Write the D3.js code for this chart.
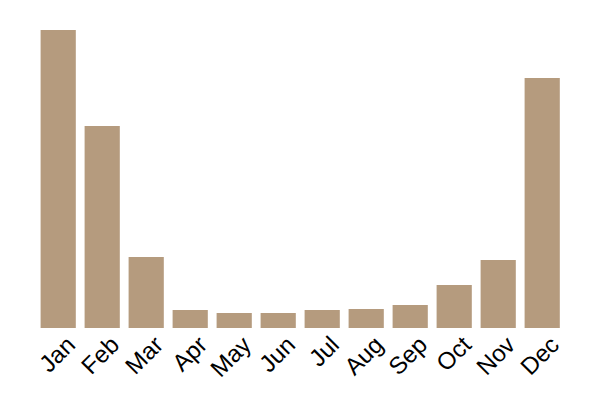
<!DOCTYPE html>
<html><head><meta charset="utf-8">
<script src="https://cdn.jsdelivr.net/npm/d3@7"></script>
<style>body{margin:0;background:#fff}</style>
</head><body>
<svg id="chart" width="600" height="400"></svg>
<script>
const months = ["Jan","Feb","Mar","Apr","May","Jun","Jul","Aug","Sep","Oct","Nov","Dec"];
const values = [298, 202, 71, 18, 15, 15, 18, 19, 23, 43, 68, 250];

const svg = d3.select("#chart");
const margin = {top: 30, bottom: 72};
const height = 400;
const x = d3.scaleBand().domain(months).range([36.2, 564.2]).paddingInner(0.2).paddingOuter(0.1);
const y = d3.scaleLinear().domain([0, d3.max(values)]).range([height - margin.bottom, margin.top]);

svg.append("g").selectAll("rect").data(values).join("rect")
  .attr("x", (d, i) => x(months[i]))
  .attr("y", d => y(d))
  .attr("width", x.bandwidth())
  .attr("height", d => y(0) - y(d))
  .attr("fill", "#b59b7e");

const ax = svg.append("g").attr("transform", `translate(0,${y(0)})`)
  .call(d3.axisBottom(x).tickSize(6));
ax.select(".domain").remove();
ax.selectAll(".tick line").remove();
ax.selectAll("text")
  .style("font-family", "Liberation Sans, Arial, sans-serif")
  .style("font-size", "24px")
  .attr("fill", "#000")
  .attr("text-anchor", "end")
  .attr("transform", "rotate(-45)");
</script>
</body></html>
